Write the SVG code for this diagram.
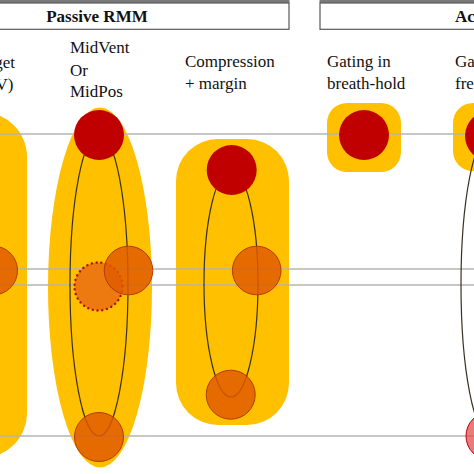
<svg xmlns="http://www.w3.org/2000/svg" width="474" height="474" viewBox="0 0 474 474">
<style>
.hdr{fill:#fff;stroke:#595959;stroke-width:1.2}
.strip{fill:#7a7a7a}
.ht{font-family:"Liberation Serif","Times New Roman",serif;font-size:17px;font-weight:bold;fill:#111}
.lbl{font-family:"Liberation Serif","Times New Roman",serif;font-size:17px;fill:#111}
.yel{fill:#ffc000}
.red{fill:#c00000}
.org{fill:#e05a00;fill-opacity:0.85;stroke:#b23c00;stroke-width:1}
.dot{fill:#ec7a10;stroke:#b01010;stroke-width:2.4;stroke-dasharray:0.1 4.7;stroke-linecap:round}
.pink{fill:#e05050;fill-opacity:0.75;stroke:#c00000;stroke-width:1}
.loop{fill:none;stroke:#3a3020;stroke-width:1.2}
.ref{stroke:#b4b4b4;stroke-width:1.5}
</style>
<rect width="474" height="474" fill="#fff"/>
<g id="header-passive">
<rect class="strip" x="-100" y="0" width="389.5" height="3"/>
<rect class="hdr" x="-100" y="3" width="389" height="26.3"/>
<text class="ht" x="97" y="22" text-anchor="middle">Passive RMM</text>
</g>
<g id="header-active">
<rect class="strip" x="319.5" y="0" width="200" height="3"/>
<rect class="hdr" x="320" y="3" width="200" height="26.3"/>
<text class="ht" x="455" y="22">Ac</text>
</g>
<g id="labels">
<text class="lbl" x="15" y="68" text-anchor="end">get</text>
<text class="lbl" x="13.5" y="90" text-anchor="end">V)</text>
<text class="lbl" x="70" y="53">MidVent</text>
<text class="lbl" x="70" y="75.5">Or</text>
<text class="lbl" x="70" y="97">MidPos</text>
<text class="lbl" x="185" y="67">Compression</text>
<text class="lbl" x="185" y="89">+ margin</text>
<text class="lbl" x="327" y="67">Gating in</text>
<text class="lbl" x="327" y="89">breath-hold</text>
<text class="lbl" x="455" y="67">Ga</text>
<text class="lbl" x="455" y="89">fre</text>
</g>
<g id="margins">
<rect class="yel" x="-86" y="112" width="113" height="346" rx="45"/>
<ellipse class="yel" cx="100" cy="287.5" rx="52" ry="180"/>
<rect class="yel" x="176" y="139" width="113" height="286" rx="42"/>
<rect class="yel" x="327" y="103" width="74" height="69" rx="20"/>
<rect class="yel" x="453" y="103" width="74" height="68" rx="20"/>
</g>
<g id="connectors">
<line class="ref" x1="0" y1="134" x2="474" y2="134"/>
<line class="ref" x1="0" y1="269" x2="474" y2="269"/>
<line class="ref" x1="0" y1="285" x2="474" y2="285"/>
<line class="ref" x1="0" y1="436" x2="474" y2="436"/>
<ellipse class="loop" cx="99" cy="285" rx="29" ry="151"/>
<ellipse class="loop" cx="231" cy="283.5" rx="27" ry="113.5"/>
<ellipse class="loop" cx="490" cy="285" rx="29" ry="151"/>
</g>
<g id="target">
<circle class="org" cx="-7" cy="270.5" r="24.5"/>
</g>
<g id="midvent">
<circle class="red" cx="99" cy="135" r="25"/>
<circle class="dot" cx="98.5" cy="286.5" r="24"/>
<circle class="org" cx="128.5" cy="270.5" r="24.3"/>
<circle class="org" cx="99" cy="437" r="24.5"/>
</g>
<g id="compression">
<circle class="red" cx="231.7" cy="170" r="25"/>
<circle class="org" cx="256.7" cy="270.5" r="24.3"/>
<circle class="org" cx="230.7" cy="394.7" r="24.5"/>
</g>
<g id="gating-breath-hold">
<circle class="red" cx="364" cy="135" r="25"/>
</g>
<g id="gating-free">
<circle class="red" cx="490" cy="136" r="25"/>
<circle class="pink" cx="490" cy="436" r="24"/>
</g>
</svg>
